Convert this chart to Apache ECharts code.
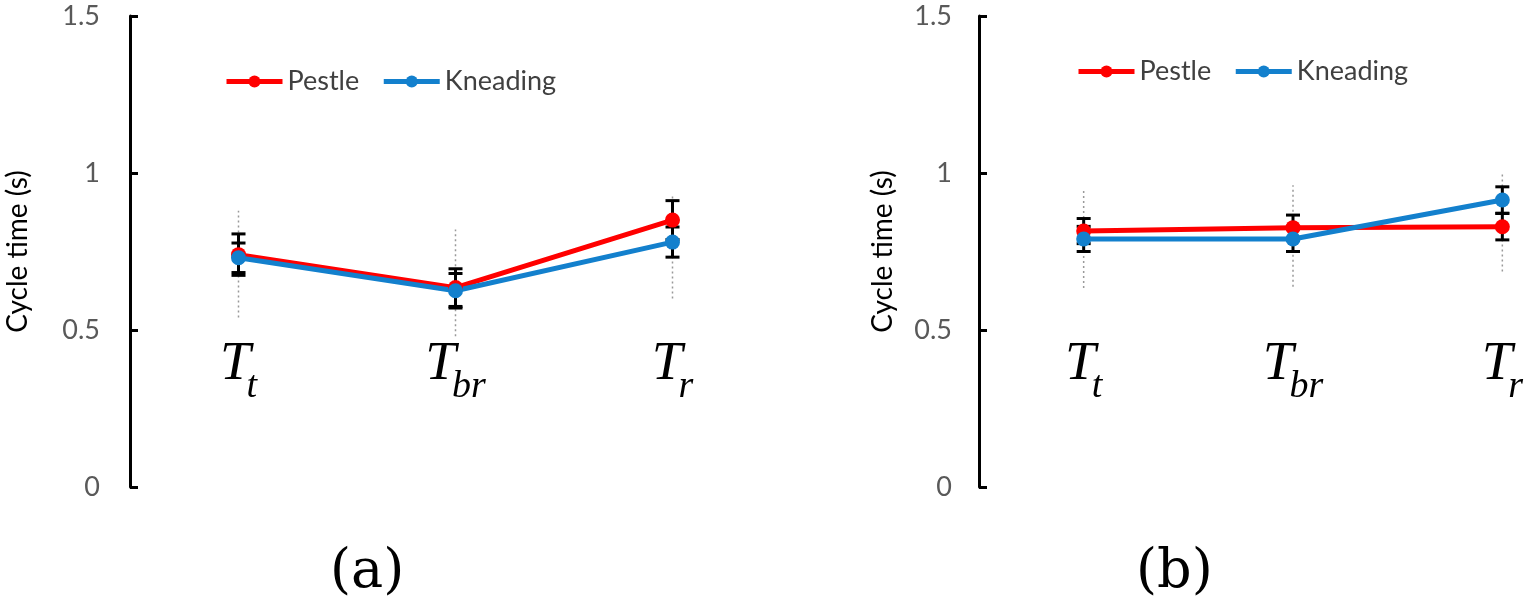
<!DOCTYPE html>
<html>
<head>
<meta charset="utf-8">
<script src="https://cdn.jsdelivr.net/npm/echarts@6/dist/echarts.min.js"></script>
<style>html,body{margin:0;padding:0;background:#fff}#c{width:1533px;height:614px}</style>
</head>
<body>
<div id="c"></div>
<script>
// ---- data ----
const subscripts = ['t', 'br', 'r'];          // category labels T_t, T_br, T_r
const yTicks = [0, 0.5, 1, 1.5];
const seriesNames = ['Pestle', 'Kneading'];

const pestleA = [0.74, 0.635, 0.85];
const kneadA = [0.73, 0.625, 0.78];
const pestleErrA = [0.066, 0.06, 0.062];
const kneadErrA = [0.047, 0.055, 0.048];
const rangeLowA = [0.54, 0.48, 0.60];
const rangeHighA = [0.88, 0.82, 0.935];

const pestleB = [0.815, 0.826, 0.829];
const kneadB = [0.79, 0.79, 0.914];
const pestleErrB = [0.04, 0.04, 0.042];
const kneadErrB = [0.04, 0.04, 0.042];
const rangeLowB = [0.634, 0.638, 0.686];
const rangeHighB = [0.952, 0.961, 1.004];

const RED = '#FF0000', BLUE = '#1380CD';

function errData(vals, errs) { return vals.map((v, i) => [i, v - errs[i], v + errs[i]]); }
function rangeData(lo, hi) { return lo.map((v, i) => [i, v, hi[i]]); }

function errRender(params, api) {
  const lo = api.coord([api.value(0), api.value(1)]);
  const hi = api.coord([api.value(0), api.value(2)]);
  const w = 7, st = { stroke: '#000', lineWidth: 3 };
  return { type: 'group', children: [
    { type: 'line', shape: { x1: lo[0], y1: lo[1], x2: hi[0], y2: hi[1] }, style: st },
    { type: 'line', shape: { x1: hi[0] - w, y1: hi[1], x2: hi[0] + w, y2: hi[1] }, style: st },
    { type: 'line', shape: { x1: lo[0] - w, y1: lo[1], x2: lo[0] + w, y2: lo[1] }, style: st }
  ]};
}
function rangeRender(params, api) {
  const lo = api.coord([api.value(0), api.value(1)]);
  const hi = api.coord([api.value(0), api.value(2)]);
  return { type: 'line', shape: { x1: lo[0], y1: lo[1], x2: hi[0], y2: hi[1] },
    style: { stroke: '#999', lineWidth: 1.5, lineDash: [2, 3] } };
}

function xAxisCfg(gi) {
  return {
    type: 'category', gridIndex: gi, data: subscripts, boundaryGap: true,
    offset: -136,
    axisLine: { show: false }, axisTick: { show: false }, splitLine: { show: false },
    axisLabel: {
      interval: 0, margin: 0,
      formatter: (v) => '{T|T}{s|' + v + '}',
      rich: {
        T: { fontFamily: 'Liberation Serif', fontStyle: 'italic', fontSize: 55, lineHeight: 55, color: '#000', verticalAlign: 'bottom', padding: [0, 0, 14, 0] },
        s: { fontFamily: 'Liberation Serif', fontStyle: 'italic', fontSize: 38, lineHeight: 38, color: '#000', verticalAlign: 'bottom', padding: [0, 0, 0, -4] }
      }
    }
  };
}
function yAxisCfg(gi, gap, margin) {
  return {
    type: 'value', gridIndex: gi, min: yTicks[0], max: yTicks[yTicks.length - 1], interval: 0.5,
    name: 'Cycle time (s)', nameLocation: 'middle', nameGap: gap,
    nameTextStyle: { fontFamily: 'Lato', fontSize: 28, color: '#000' },
    axisLine: { show: true, lineStyle: { color: '#000', width: 3 } },
    axisTick: { show: true, inside: true, length: 8, lineStyle: { color: '#000', width: 3 } },
    axisLabel: { margin: margin, fontFamily: 'Lato', fontSize: 27, color: '#595959' },
    splitLine: { show: false }
  };
}
function lineSeries(name, color, data, gi) {
  return { type: 'line', name: name, xAxisIndex: gi, yAxisIndex: gi, data: data,
    symbol: 'circle', symbolSize: 15, z: 5,
    lineStyle: { color: color, width: 5 }, itemStyle: { color: color } };
}
function customSeries(render, data, gi, z) {
  return { type: 'custom', xAxisIndex: gi, yAxisIndex: gi, data: data, renderItem: render, z: z,
    encode: { x: 0, y: [1, 2] }, silent: true };
}
function legendCfg(left, top) {
  return { left: left, top: top, data: seriesNames, itemWidth: 56, itemHeight: 15, itemGap: 22,
    lineStyle: { width: 5 },
    textStyle: { fontFamily: 'Lato', fontSize: 27, color: '#404040' } };
}

const chart = echarts.init(document.getElementById('c'), null, { renderer: 'canvas' });
chart.setOption({
  animation: false,
  backgroundColor: '#fff',
  grid: [
    { left: 130, top: 16, width: 651, height: 471, outerBoundsMode: 'none', containLabel: false },
    { left: 979, top: 16, width: 628, height: 471, outerBoundsMode: 'none', containLabel: false }
  ],
  xAxis: [xAxisCfg(0), xAxisCfg(1)],
  yAxis: [yAxisCfg(0, 98, 30), yAxisCfg(1, 82, 27)],
  legend: [legendCfg(219, 63), legendCfg(1071, 53)],
  graphic: [
    { type: 'text', left: 330, top: 546, style: { text: '(a)', fontFamily: 'DejaVu Serif', fontSize: 54, fill: '#000' } },
    { type: 'text', left: 1136, top: 546, style: { text: '(b)', fontFamily: 'DejaVu Serif', fontSize: 54, fill: '#000' } }
  ],
  series: [
    customSeries(rangeRender, rangeData(rangeLowA, rangeHighA), 0, 1),
    customSeries(errRender, errData(pestleA, pestleErrA), 0, 2),
    customSeries(errRender, errData(kneadA, kneadErrA), 0, 2),
    lineSeries('Pestle', RED, pestleA, 0),
    lineSeries('Kneading', BLUE, kneadA, 0),
    customSeries(rangeRender, rangeData(rangeLowB, rangeHighB), 1, 1),
    customSeries(errRender, errData(pestleB, pestleErrB), 1, 2),
    customSeries(errRender, errData(kneadB, kneadErrB), 1, 2),
    lineSeries('Pestle', RED, pestleB, 1),
    lineSeries('Kneading', BLUE, kneadB, 1)
  ]
});
</script>
</body>
</html>
